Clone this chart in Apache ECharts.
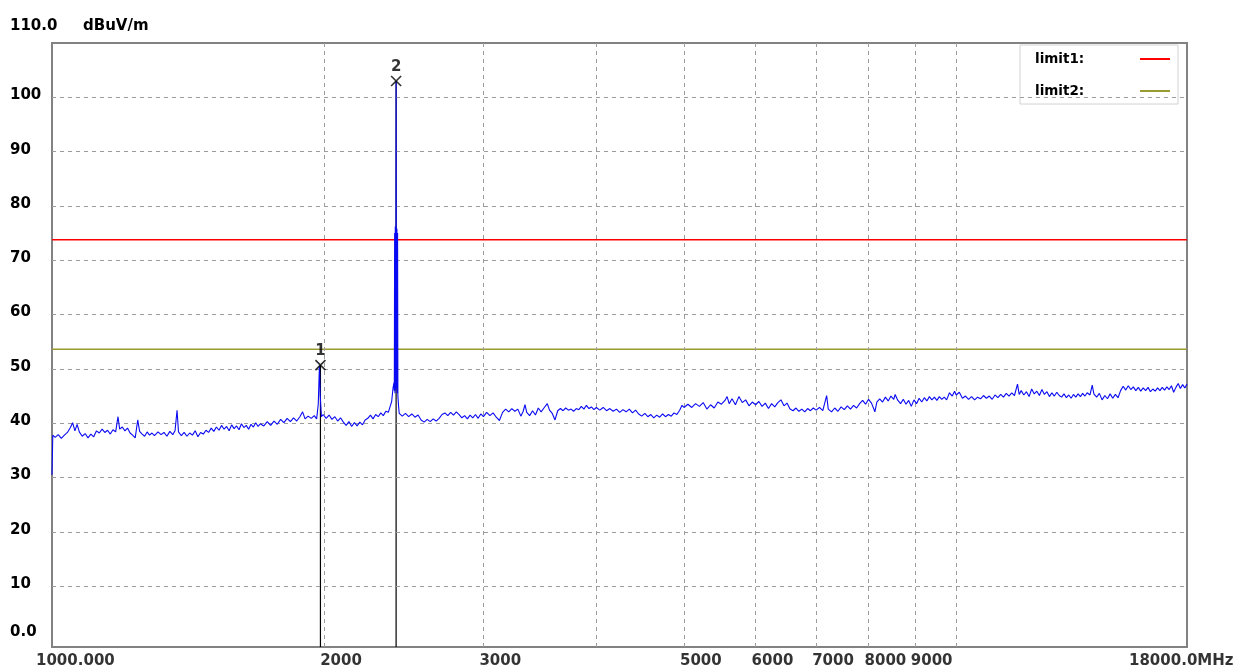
<!DOCTYPE html>
<html>
<head>
<meta charset="utf-8">
<script src="https://cdn.jsdelivr.net/npm/echarts/dist/echarts.min.js"></script>
<style>
html,body{margin:0;padding:0;background:#ffffff;}
#chart{width:1237px;height:671px;}
</style>
</head>
<body>
<div id="chart"></div>
<script>
// ---------------- data (MHz, dBuV/m) ----------------
const traceSeg1 = [[1000,30.5],[1002,37.8],[1008,37.4],[1016,37.9],[1024,37.2],[1032,37.8],[1040,38.3],[1048,39.2],[1054,40.1],[1060,38.6],[1066,39.8],[1072,38.4],[1080,37.6],[1088,38.1],[1096,37.3],[1104,38.0],[1112,37.5],[1120,38.6],[1128,38.2],[1136,38.9],[1144,38.3],[1152,38.7],[1160,38.0],[1168,38.8],[1176,38.4],[1183,41.2],[1188,38.9],[1196,39.3],[1204,38.6],[1212,39.1],[1220,38.2],[1228,37.8],[1236,37.3],[1244,40.6],[1250,38.5],[1258,38.0],[1266,37.6],[1274,38.4],[1282,37.8],[1290,38.2],[1298,37.7]];
const traceSeg2 = [[1310,38.4],[1320,37.9],[1330,38.3],[1340,37.6],[1350,38.5],[1360,37.9],[1368,38.6],[1375,42.4],[1380,38.4],[1390,37.7],[1400,38.3],[1410,37.6],[1420,38.2],[1430,37.8],[1440,38.6],[1450,37.5],[1460,38.3],[1470,38.0],[1480,38.7],[1490,38.3],[1500,39.1],[1510,38.5],[1520,39.3],[1530,38.7],[1540,39.6],[1550,38.9],[1560,39.4],[1570,38.6],[1580,39.7],[1590,39.0],[1600,39.5],[1610,38.8],[1620,39.9],[1630,39.2],[1640,39.6],[1650,38.9],[1660,39.8],[1670,39.3],[1680,40.1],[1690,39.4],[1700,39.9],[1715,39.5],[1730,40.3],[1745,39.6],[1760,40.4],[1775,39.8],[1790,40.7],[1805,40.1],[1820,40.9],[1835,40.3],[1850,41.0],[1865,40.4],[1880,41.2],[1893,42.1],[1905,40.8],[1920,41.3],[1935,40.9],[1950,41.4],[1962,40.8],[1970,43.5],[1976,50.6],[1980,45.0],[1986,41.2],[1995,41.6]];
const traceSeg3 = [[2010,40.9],[2025,41.5],[2040,40.7],[2055,41.2],[2070,40.4],[2085,41.0],[2100,40.2],[2115,39.6],[2130,40.3],[2145,39.4],[2160,40.1],[2175,39.5],[2190,40.2],[2205,39.7],[2220,40.6],[2235,40.9],[2250,41.5],[2265,40.8],[2280,41.6],[2295,41.2],[2310,41.9],[2325,41.4],[2340,42.2],[2355,42.0],[2365,43.0],[2375,44.0],[2383,46.4],[2389,47.5],[2391,46.0],[2393,75.0],[2395,45.5],[2397,76.2],[2399,46.0],[2401,76.4],[2402,103.0],[2403,76.0],[2405,46.5],[2407,75.8],[2409,45.5],[2411,75.0],[2413,45.0],[2416,43.6],[2421,41.8]];
const traceSeg4 = [[2428,41.9],[2440,41.3],[2460,41.8],[2480,41.2],[2500,41.7],[2520,41.1],[2540,41.5],[2560,40.6],[2580,40.2],[2600,40.7],[2620,40.3],[2640,40.8],[2660,40.4],[2680,40.9],[2700,41.6],[2720,41.9],[2740,41.4],[2760,42.0],[2780,41.5],[2800,42.1],[2820,41.6],[2840,41.0],[2860,41.4],[2880,40.8],[2900,41.5],[2920,41.0],[2940,41.6],[2960,40.9],[2980,41.7],[3000,41.2],[3025,42.0],[3050,41.4],[3075,41.9],[3100,41.1],[3125,40.5],[3150,42.0],[3175,42.6],[3200,42.1],[3225,42.7],[3250,42.2],[3275,42.6],[3300,41.3],[3320,42.2],[3335,43.4],[3350,42.0],[3375,41.4],[3400,42.3],[3425,41.5],[3450,42.8],[3475,42.1],[3500,42.8],[3530,43.6],[3550,42.4],[3575,41.8],[3600,40.6],[3625,42.3],[3650,42.7],[3675,42.3],[3700,42.8],[3725,42.4],[3750,42.6],[3775,42.2],[3800,42.7],[3825,42.5],[3850,43.1],[3875,42.6],[3900,43.3],[3925,42.7],[3950,43.0],[3975,42.5],[4000,42.9]];
const traceSeg5 = [[4035,42.4],[4070,42.9],[4105,42.3],[4140,42.7],[4175,42.2],[4210,42.6],[4245,42.0],[4280,42.5],[4315,42.1],[4350,42.6],[4385,41.9],[4420,42.4],[4455,41.7],[4490,41.3],[4525,41.8],[4560,41.2],[4595,41.6],[4630,41.0],[4665,41.5],[4700,41.1],[4735,41.7],[4770,41.2],[4805,41.6],[4840,41.3],[4875,41.9],[4910,41.6],[4945,42.4],[4975,43.3],[5000,42.9],[5050,43.5],[5100,42.9],[5150,43.6],[5200,43.1],[5250,43.8],[5300,42.6],[5350,43.4],[5400,42.8],[5450,43.9],[5500,43.5],[5550,44.2],[5580,44.9],[5610,43.6],[5650,44.5],[5700,43.4],[5750,44.9],[5800,43.8],[5850,44.3],[5900,43.2],[5950,43.9],[6000,43.4],[6050,44.0],[6100,43.1],[6150,43.7],[6200,42.7],[6250,43.6],[6300,43.0],[6350,43.8],[6400,44.3],[6450,43.2],[6500,43.7],[6550,42.6],[6600,42.3],[6650,42.8],[6700,42.2],[6750,42.6],[6800,42.1],[6850,42.7],[6900,42.3],[6950,42.8],[7000,42.4]];
const traceSeg6 = [[7060,42.9],[7120,42.3],[7190,45.1],[7220,42.6],[7280,42.1],[7340,42.8],[7400,42.2],[7460,43.0],[7520,42.5],[7580,43.2],[7640,42.6],[7700,43.3],[7760,42.8],[7820,43.6],[7880,44.2],[7940,43.5],[8000,44.4],[8060,43.7],[8130,42.1],[8170,43.9],[8230,44.5],[8290,43.9],[8350,44.8],[8410,44.1],[8470,45.0],[8530,44.4],[8560,45.3],[8620,44.2],[8680,43.6],[8740,44.4],[8800,43.5],[8860,44.2],[8920,43.1],[8980,44.3],[9040,43.6],[9100,44.6],[9160,43.9],[9220,44.7],[9280,44.1],[9340,44.9],[9400,44.3],[9460,44.8],[9520,44.2],[9580,44.9],[9640,44.4],[9700,44.8],[9760,44.3],[9830,45.6],[9900,45.0],[9960,45.9],[10000,45.2]];
const traceSeg7 = [[10080,45.7],[10160,44.6],[10240,45.0],[10320,44.4],[10400,44.9],[10480,44.3],[10560,44.8],[10640,44.5],[10720,45.1],[10800,44.6],[10880,45.0],[10960,44.4],[11040,45.2],[11120,44.7],[11200,45.3],[11280,44.8],[11360,45.5],[11440,45.0],[11520,45.6],[11600,45.1],[11690,47.2],[11740,45.3],[11800,46.0],[11880,45.2],[11960,45.8],[12040,44.9],[12120,46.3],[12200,45.4],[12280,45.9],[12360,45.1],[12440,46.2],[12520,45.3],[12600,45.8],[12680,44.9],[12760,45.6],[12840,45.0],[12920,45.7],[13000,45.1],[13080,44.8],[13160,45.4],[13240,44.7],[13320,45.2],[13400,44.6],[13480,45.3],[13560,44.8],[13640,45.4],[13720,44.9],[13800,45.5],[13880,45.0],[13960,45.6],[14060,45.2],[14140,47.0],[14200,45.4],[14300,44.8],[14400,45.5],[14500,44.3],[14600,45.1],[14700,44.5],[14800,45.4],[14900,44.6],[15000,45.3],[15100,44.7],[15200,46.0],[15300,46.8],[15400,46.1],[15500,46.9],[15600,46.2],[15700,46.7],[15800,46.0],[15900,46.6],[16000,45.9],[16100,46.5],[16200,46.0],[16300,46.6],[16400,45.8],[16500,46.3],[16600,45.9],[16700,46.5],[16800,46.0],[16900,46.6],[17000,46.1],[17100,46.7],[17200,46.2],[17300,46.9],[17400,45.7],[17500,46.6],[17600,47.3],[17700,46.4],[17800,47.1],[17900,46.5],[18000,47.2]];

const limit1Level = 73.8;
const limit2Level = 53.6;
const limitNames = ['limit1', 'limit2'];
const markerPoints = [[1981, 50.7], [2402, 103.0]];
const markerNames = ['1', '2'];

const xGridValues = [2000, 3000, 4000, 5000, 6000, 7000, 8000, 9000, 10000];
const xTickValues = [1000, 2000, 3000, 5000, 6000, 7000, 8000, 9000, 18000];
const xTickLabels = ['1000.000', '2000', '3000', '5000', '6000', '7000', '8000', '9000', '18000.0MHz'];
const yGridValues = [10, 20, 30, 40, 50, 60, 70, 80, 90, 100];
const yTickValues = [0, 10, 20, 30, 40, 50, 60, 70, 80, 90, 100, 110];
const yTickLabels = ['0.0', '10', '20', '30', '40', '50', '60', '70', '80', '90', '100', '110.0'];
const yUnit = 'dBuV/m';

// ---------------- chart ----------------
const FONT = 'DejaVu Sans';
const X_MIN = 1000, X_MAX = 18000, Y_MIN = -1.2, Y_MAX = 110;
const trace = [].concat(traceSeg1, traceSeg2, traceSeg3, traceSeg4, traceSeg5, traceSeg6, traceSeg7);

const chart = echarts.init(document.getElementById('chart'), null, { renderer: 'canvas' });

const gridLineStyle = { color: '#9c9c9c', width: 1, type: [4, 4] };

function xLabelShift(i) {
  if (i === 0) return -16;
  if (i === xTickValues.length - 1) return -58;
  return -4;
}

const option = {
  animation: false,
  backgroundColor: '#ffffff',
  grid: { left: 52, right: 50, top: 43, bottom: 24, show: true, borderColor: '#828282', borderWidth: 2, backgroundColor: '#ffffff' },
  legend: {
    data: limitNames,
    left: 1020, top: 45,
    orient: 'vertical',
    align: 'right',
    icon: 'rect',
    itemWidth: 30, itemHeight: 2, itemGap: 18,
    padding: [7, 8, 6, 15],
    backgroundColor: '#ffffff',
    borderColor: '#d2d2d2', borderWidth: 1,
    selectedMode: false,
    formatter: n => '{a|' + n + ':}',
    textStyle: { rich: { a: { width: 100, align: 'left', lineHeight: 14, fontFamily: FONT, fontSize: 13.5, fontWeight: 'bold', color: '#000' } } }
  },
  xAxis: {
    type: 'log', logBase: 10, min: X_MIN, max: X_MAX,
    axisLine: { show: false }, axisTick: { show: false }, axisLabel: { show: false }, splitLine: { show: false }
  },
  yAxis: {
    type: 'value', min: Y_MIN, max: Y_MAX,
    axisLine: { show: false }, axisTick: { show: false }, splitLine: { show: false },
    axisLabel: {
      customValues: yTickValues,
      align: 'left', margin: 42,
      formatter: v => {
        const i = yTickValues.indexOf(v);
        const t = i >= 0 ? yTickLabels[i] : '';
        if (v === 110) return '{t|' + t + '}{u|' + yUnit + '}';
        if (v === 0) return '{z|' + t + '}';
        return '{n|' + t + '}';
      },
      rich: {
        n: { fontFamily: FONT, fontSize: 15, fontWeight: 'bold', color: '#000', padding: [0, 0, 4, 0] },
        z: { fontFamily: FONT, fontSize: 15, fontWeight: 'bold', color: '#000', padding: [0, 0, 16, 0] },
        t: { fontFamily: FONT, fontSize: 15, fontWeight: 'bold', color: '#000', width: 73, padding: [0, 0, 34, 0] },
        u: { fontFamily: FONT, fontSize: 15, fontWeight: 'bold', color: '#000', padding: [0, 0, 34, 0] }
      }
    }
  },
  series: [
    {
      name: 'axisLabelsX', type: 'scatter', z: 1, silent: true,
      symbolSize: 1, itemStyle: { color: 'rgba(0,0,0,0)' },
      data: xTickValues.map((v, i) => ({
        value: [v, Y_MIN],
        label: { align: 'left', offset: [xLabelShift(i), 0] }
      })),
      label: {
        show: true, position: 'bottom', distance: 6,
        formatter: p => xTickLabels[p.dataIndex],
        fontFamily: FONT, fontSize: 15, fontWeight: 'bold', color: '#000'
      },
      markLine: {
        silent: true, symbol: ['none', 'none'], label: { show: false }, animation: false,
        lineStyle: gridLineStyle, emphasis: { disabled: true },
        data: xGridValues.map(v => ({ xAxis: v })).concat(yGridValues.map(v => ({ yAxis: v })))
      }
    },
    {
      name: limitNames[0], type: 'line', z: 3, silent: true, symbol: 'none', color: '#ff0000',
      lineStyle: { color: '#ff0000', width: 1.5 },
      data: [[X_MIN, limit1Level], [X_MAX, limit1Level]]
    },
    {
      name: limitNames[1], type: 'line', z: 3, silent: true, symbol: 'none', color: '#9a9a32',
      lineStyle: { color: '#9a9a32', width: 1.5 },
      data: [[X_MIN, limit2Level], [X_MAX, limit2Level]]
    },
    {
      name: 'marker1Line', type: 'line', z: 4, silent: true, symbol: 'none',
      lineStyle: { color: '#000', width: 1.2 },
      data: [[markerPoints[0][0], markerPoints[0][1]], [markerPoints[0][0], Y_MIN]]
    },
    {
      name: 'marker2Line', type: 'line', z: 4, silent: true, symbol: 'none',
      lineStyle: { color: '#000', width: 1.2 },
      data: [[markerPoints[1][0], markerPoints[1][1]], [markerPoints[1][0], Y_MIN]]
    },
    {
      name: 'trace', type: 'line', z: 5, silent: true, symbol: 'none', showSymbol: false,
      lineStyle: { color: '#0a0af2', width: 1.1 },
      data: trace
    },
    {
      name: 'markers', type: 'scatter', z: 6, silent: true,
      symbol: 'path://M0 0L10 10M10 0L0 10', symbolSize: 10,
      itemStyle: { color: 'rgba(0,0,0,0)', borderColor: '#000', borderWidth: 1.7 },
      label: {
        show: true, position: 'top', distance: 1,
        formatter: p => markerNames[p.dataIndex],
        fontFamily: FONT, fontSize: 15, fontWeight: 'bold', color: '#000'
      },
      data: markerPoints
    }
  ]
};

chart.setOption(option);
</script>
</body>
</html>
